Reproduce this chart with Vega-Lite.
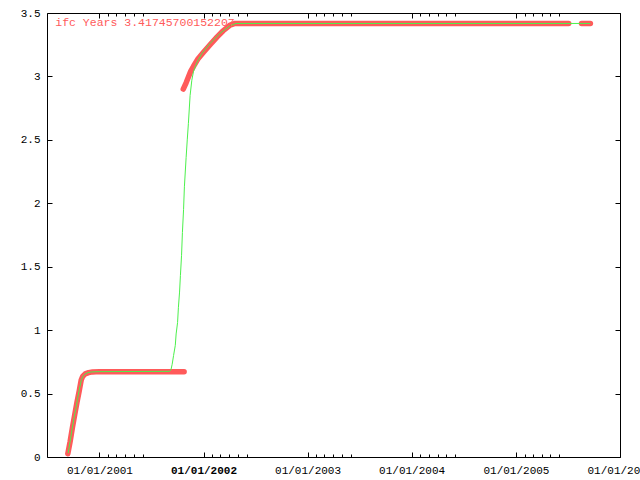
{
  "$schema": "https://vega.github.io/schema/vega-lite/v6.json",
  "width": 573,
  "height": 444,
  "autosize": {"type": "none"},
  "padding": {"left": 47, "top": 13, "right": 20, "bottom": 23},
  "background": "white",
  "config": {
    "view": {"stroke": "#000", "strokeWidth": 1},
    "axis": {"domain": false, "grid": false, "tickColor": "#000", "tickWidth": 1, "labelFont": "Liberation Mono", "labelFontSize": 11, "labelColor": "#000", "title": null}
  },
  "datasets": {
    "pts": [
      {"series": "red", "seg": 1, "date": "2000/09/12", "v": 0.025},
      {"series": "red", "seg": 1, "date": "2000/09/20", "v": 0.12},
      {"series": "red", "seg": 1, "date": "2000/09/28", "v": 0.23},
      {"series": "red", "seg": 1, "date": "2000/10/06", "v": 0.33},
      {"series": "red", "seg": 1, "date": "2000/10/14", "v": 0.43},
      {"series": "red", "seg": 1, "date": "2000/10/22", "v": 0.52},
      {"series": "red", "seg": 1, "date": "2000/10/29", "v": 0.607},
      {"series": "red", "seg": 1, "date": "2000/11/03", "v": 0.635},
      {"series": "red", "seg": 1, "date": "2000/11/12", "v": 0.655},
      {"series": "red", "seg": 1, "date": "2000/11/24", "v": 0.665},
      {"series": "red", "seg": 1, "date": "2000/12/08", "v": 0.671},
      {"series": "red", "seg": 1, "date": "2001/01/01", "v": 0.673},
      {"series": "red", "seg": 1, "date": "2001/10/25", "v": 0.673},
      {"series": "red", "seg": 2, "date": "2001/10/22", "v": 2.9},
      {"series": "red", "seg": 2, "date": "2001/11/01", "v": 2.95},
      {"series": "red", "seg": 2, "date": "2001/11/08", "v": 2.99},
      {"series": "red", "seg": 2, "date": "2001/11/17", "v": 3.04},
      {"series": "red", "seg": 2, "date": "2001/11/27", "v": 3.08},
      {"series": "red", "seg": 2, "date": "2001/12/13", "v": 3.14},
      {"series": "red", "seg": 2, "date": "2002/01/01", "v": 3.19},
      {"series": "red", "seg": 2, "date": "2002/01/24", "v": 3.25},
      {"series": "red", "seg": 2, "date": "2002/02/17", "v": 3.31},
      {"series": "red", "seg": 2, "date": "2002/03/11", "v": 3.36},
      {"series": "red", "seg": 2, "date": "2002/04/04", "v": 3.405},
      {"series": "red", "seg": 2, "date": "2002/04/22", "v": 3.4175},
      {"series": "red", "seg": 2, "date": "2005/07/05", "v": 3.4175},
      {"series": "red", "seg": 3, "date": "2005/08/19", "v": 3.4175},
      {"series": "red", "seg": 3, "date": "2005/09/19", "v": 3.4175},
      {"series": "green", "seg": 0, "date": "2000/09/13", "v": 0.03},
      {"series": "green", "seg": 0, "date": "2000/09/20", "v": 0.12},
      {"series": "green", "seg": 0, "date": "2000/09/27", "v": 0.22},
      {"series": "green", "seg": 0, "date": "2000/10/04", "v": 0.31},
      {"series": "green", "seg": 0, "date": "2000/10/11", "v": 0.39},
      {"series": "green", "seg": 0, "date": "2000/10/18", "v": 0.48},
      {"series": "green", "seg": 0, "date": "2000/10/25", "v": 0.56},
      {"series": "green", "seg": 0, "date": "2000/10/30", "v": 0.61},
      {"series": "green", "seg": 0, "date": "2000/11/04", "v": 0.635},
      {"series": "green", "seg": 0, "date": "2000/11/12", "v": 0.655},
      {"series": "green", "seg": 0, "date": "2000/11/22", "v": 0.665},
      {"series": "green", "seg": 0, "date": "2000/12/05", "v": 0.671},
      {"series": "green", "seg": 0, "date": "2001/01/01", "v": 0.673},
      {"series": "green", "seg": 0, "date": "2001/09/04", "v": 0.675},
      {"series": "green", "seg": 0, "date": "2001/09/09", "v": 0.69},
      {"series": "green", "seg": 0, "date": "2001/09/13", "v": 0.73},
      {"series": "green", "seg": 0, "date": "2001/09/18", "v": 0.8},
      {"series": "green", "seg": 0, "date": "2001/09/24", "v": 0.88},
      {"series": "green", "seg": 0, "date": "2001/09/27", "v": 0.97},
      {"series": "green", "seg": 0, "date": "2001/10/02", "v": 1.06},
      {"series": "green", "seg": 0, "date": "2001/10/05", "v": 1.18},
      {"series": "green", "seg": 0, "date": "2001/10/09", "v": 1.3},
      {"series": "green", "seg": 0, "date": "2001/10/12", "v": 1.43},
      {"series": "green", "seg": 0, "date": "2001/10/16", "v": 1.59},
      {"series": "green", "seg": 0, "date": "2001/10/19", "v": 1.77},
      {"series": "green", "seg": 0, "date": "2001/10/23", "v": 1.95},
      {"series": "green", "seg": 0, "date": "2001/10/26", "v": 2.13},
      {"series": "green", "seg": 0, "date": "2001/11/01", "v": 2.36},
      {"series": "green", "seg": 0, "date": "2001/11/05", "v": 2.5},
      {"series": "green", "seg": 0, "date": "2001/11/09", "v": 2.63},
      {"series": "green", "seg": 0, "date": "2001/11/15", "v": 2.85},
      {"series": "green", "seg": 0, "date": "2001/11/21", "v": 2.97},
      {"series": "green", "seg": 0, "date": "2001/11/27", "v": 3.04},
      {"series": "green", "seg": 0, "date": "2001/12/09", "v": 3.11},
      {"series": "green", "seg": 0, "date": "2001/12/26", "v": 3.18},
      {"series": "green", "seg": 0, "date": "2002/01/24", "v": 3.26},
      {"series": "green", "seg": 0, "date": "2002/02/28", "v": 3.34},
      {"series": "green", "seg": 0, "date": "2002/04/04", "v": 3.4},
      {"series": "green", "seg": 0, "date": "2002/04/25", "v": 3.4175},
      {"series": "green", "seg": 0, "date": "2005/09/19", "v": 3.4175}
    ],
    "label": [{"label": "ifc Years 3.41745700152207"}]
  },
  "resolve": {"axis": {"x": "independent", "y": "independent"}},
  "layer": [
    {
      "data": {"name": "pts"},
      "transform": [{"filter": "datum.series === 'red' && datum.seg === 1"}],
      "mark": {"type": "line", "color": "#ff5a5a", "strokeWidth": 5.5, "strokeCap": "round", "strokeJoin": "round", "clip": true},
      "encoding": {
        "x": {"field": "date", "type": "temporal",
          "scale": {"domain": [{"year": 2000, "month": 7, "date": 1}, {"year": 2006, "month": 1, "date": 1}]},
          "axis": {"orient": "bottom", "format": "%m/%d/%Y", "ticks": true, "tickSize": -5, "labelPadding": 12, "labelFlush": false, "labelOverlap": false,
            "labelFontWeight": {"condition": {"test": "year(datum.value) === 2002", "value": "bold"}, "value": "normal"},
            "values": [{"year": 2001, "month": 1, "date": 1}, {"year": 2002, "month": 1, "date": 1}, {"year": 2003, "month": 1, "date": 1}, {"year": 2004, "month": 1, "date": 1}, {"year": 2005, "month": 1, "date": 1}, {"year": 2006, "month": 1, "date": 1}]}},
        "y": {"field": "v", "type": "quantitative",
          "scale": {"domain": [0, 3.5], "nice": false, "zero": true},
          "axis": {"orient": "left", "values": [0, 0.5, 1, 1.5, 2, 2.5, 3, 3.5], "format": "~g", "tickSize": -5, "labelPadding": 12, "labelFlush": false, "labelOverlap": false}},
        "detail": {"field": "seg", "type": "nominal"}
      }
    },
    {
      "data": {"name": "pts"},
      "transform": [{"filter": "datum.series === 'red' && datum.seg > 1"}],
      "mark": {"type": "line", "color": "#ff5a5a", "strokeWidth": 5.5, "strokeCap": "round", "strokeJoin": "round", "clip": true},
      "encoding": {
        "x": {"field": "date", "type": "temporal",
          "scale": {"domain": [{"year": 2000, "month": 7, "date": 1}, {"year": 2006, "month": 1, "date": 1}]},
          "axis": {"orient": "top", "labels": false, "tickSize": -3,
            "values": [
              {"year": 2001, "month": 2, "date": 1}, {"year": 2001, "month": 3, "date": 1}, {"year": 2001, "month": 4, "date": 1}, {"year": 2001, "month": 5, "date": 1}, {"year": 2001, "month": 6, "date": 1},
              {"year": 2002, "month": 2, "date": 1}, {"year": 2002, "month": 3, "date": 1}, {"year": 2002, "month": 4, "date": 1}, {"year": 2002, "month": 5, "date": 1}, {"year": 2002, "month": 6, "date": 1},
              {"year": 2003, "month": 2, "date": 1}, {"year": 2003, "month": 3, "date": 1}, {"year": 2003, "month": 4, "date": 1}, {"year": 2003, "month": 5, "date": 1}, {"year": 2003, "month": 6, "date": 1},
              {"year": 2004, "month": 2, "date": 1}, {"year": 2004, "month": 3, "date": 1}, {"year": 2004, "month": 4, "date": 1}, {"year": 2004, "month": 5, "date": 1}, {"year": 2004, "month": 6, "date": 1},
              {"year": 2005, "month": 2, "date": 1}, {"year": 2005, "month": 3, "date": 1}, {"year": 2005, "month": 4, "date": 1}, {"year": 2005, "month": 5, "date": 1}, {"year": 2005, "month": 6, "date": 1}
            ]}},
        "y": {"field": "v", "type": "quantitative", "scale": {"domain": [0, 3.5], "nice": false}, "axis": null},
        "detail": {"field": "seg", "type": "nominal"}
      }
    },
    {
      "data": {"name": "pts"},
      "transform": [{"filter": "datum.series === 'green'"}],
      "mark": {"type": "line", "color": "#4cf04c", "strokeWidth": 1, "clip": true},
      "encoding": {
        "x": {"field": "date", "type": "temporal",
          "scale": {"domain": [{"year": 2000, "month": 7, "date": 1}, {"year": 2006, "month": 1, "date": 1}]},
          "axis": {"orient": "top", "labels": false, "tickSize": -5,
            "values": [{"year": 2001, "month": 1, "date": 1}, {"year": 2002, "month": 1, "date": 1}, {"year": 2003, "month": 1, "date": 1}, {"year": 2004, "month": 1, "date": 1}, {"year": 2005, "month": 1, "date": 1}, {"year": 2006, "month": 1, "date": 1}]}},
        "y": {"field": "v", "type": "quantitative",
          "scale": {"domain": [0, 3.5], "nice": false},
          "axis": {"orient": "right", "labels": false, "tickSize": -5, "values": [0, 0.5, 1, 1.5, 2, 2.5, 3, 3.5]}}
      }
    },
    {
      "data": {"name": "label"},
      "mark": {"type": "text", "color": "#ff5a5a", "font": "Liberation Mono", "fontSize": 11.5, "align": "left", "baseline": "middle"},
      "encoding": {
        "x": {"datum": {"year": 2000, "month": 7, "date": 30}, "type": "temporal",
          "scale": {"domain": [{"year": 2000, "month": 7, "date": 1}, {"year": 2006, "month": 1, "date": 1}]},
          "axis": {"orient": "bottom", "labels": false, "tickSize": -3,
            "values": [
              {"year": 2001, "month": 2, "date": 1}, {"year": 2001, "month": 3, "date": 1}, {"year": 2001, "month": 4, "date": 1}, {"year": 2001, "month": 5, "date": 1}, {"year": 2001, "month": 6, "date": 1},
              {"year": 2002, "month": 2, "date": 1}, {"year": 2002, "month": 3, "date": 1}, {"year": 2002, "month": 4, "date": 1}, {"year": 2002, "month": 5, "date": 1}, {"year": 2002, "month": 6, "date": 1},
              {"year": 2003, "month": 2, "date": 1}, {"year": 2003, "month": 3, "date": 1}, {"year": 2003, "month": 4, "date": 1}, {"year": 2003, "month": 5, "date": 1}, {"year": 2003, "month": 6, "date": 1},
              {"year": 2004, "month": 2, "date": 1}, {"year": 2004, "month": 3, "date": 1}, {"year": 2004, "month": 4, "date": 1}, {"year": 2004, "month": 5, "date": 1}, {"year": 2004, "month": 6, "date": 1},
              {"year": 2005, "month": 2, "date": 1}, {"year": 2005, "month": 3, "date": 1}, {"year": 2005, "month": 4, "date": 1}, {"year": 2005, "month": 5, "date": 1}, {"year": 2005, "month": 6, "date": 1}
            ]}},
        "y": {"datum": 3.4175, "type": "quantitative", "scale": {"domain": [0, 3.5], "nice": false}, "axis": null},
        "text": {"field": "label", "type": "nominal"}
      }
    }
  ]
}
